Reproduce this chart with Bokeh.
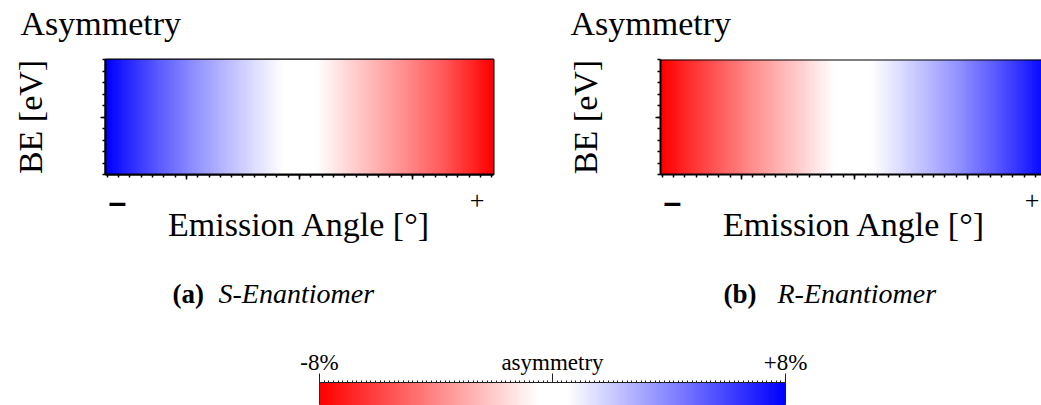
import numpy as np
from bokeh.plotting import figure
from bokeh.models import LinearColorMapper, FixedTicker, LinearAxis, Label, Span
from bokeh.layouts import column, row
from bokeh.embed import file_html
from bokeh.resources import INLINE

# ---- data -------------------------------------------------------------
# emission-angle window of the analyser (degrees) and binding-energy window
angle_range = (-17.15, 17.15)
be_range = (-5.0, 5.0)

# asymmetry (%) versus emission angle, constant along binding energy
angle_nodes = [-17.15, -13.0, -9.0, -4.5, -2.0, 0.0, 2.0, 4.5, 9.0, 13.0, 17.15]
asym_s = [8.0, 5.6, 3.6, 1.7, 0.7, 0.0, -0.7, -1.8, -3.7, -5.5, -8.0]
asym_r = [-8.0, -5.8, -3.8, -1.8, -0.6, 0.0, 0.7, 1.7, 3.6, 5.6, 8.0]

cbar_limits = (-8.0, 8.0)
cbar_major = [-8, 0, 8]
cbar_labels = {-8: "-8%", 0: "asymmetry", 8: "+8%"}

panel_title = "Asymmetry"
x_label = "Emission Angle [°]"
y_label = "BE [eV]"
captions = [("(a)", "S-Enantiomer"), ("(b)", "R-Enantiomer")]

SERIF = "Liberation Serif"

# ---- diverging red / white / blue palette -----------------------------
stops = [-8.0, -0.5, 0.5, 8.0]
red_ch = [255, 255, 255, 0]
grn_ch = [0, 255, 255, 0]
blu_ch = [0, 255, 255, 255]
levels = np.linspace(cbar_limits[0], cbar_limits[1], 256)
palette = [
    "#%02x%02x%02x" % (int(round(np.interp(v, stops, red_ch))),
                       int(round(np.interp(v, stops, grn_ch))),
                       int(round(np.interp(v, stops, blu_ch))))
    for v in levels
]
mapper = LinearColorMapper(palette=palette, low=cbar_limits[0], high=cbar_limits[1])

FRAME_W = 388
PX_PER_DEG = FRAME_W / (angle_range[1] - angle_range[0])
TITLE_H = 50     # panel titles
TOP_H = 132      # map panels (frame + ticks)
STRIP_H = 68     # angle-axis caption strip
CAP_H = 80       # sub-figure captions
CB_H = 75        # colour bar


def blank(width, height, x_range, y_range, left=0, right=0, top=0, bottom=0):
    f = figure(width=width, height=height, x_range=x_range, y_range=y_range,
               output_backend="svg", toolbar_location=None,
               x_axis_location=None, y_axis_location=None,
               min_border_left=left, min_border_right=right,
               min_border_top=top, min_border_bottom=bottom)
    f.outline_line_color = None
    f.xgrid.visible = False
    f.ygrid.visible = False
    return f


def text(x, y, s, font=SERIF, size=34, style="normal", align="left"):
    # Label baseline sits about a third of the font size below y; compensate
    return Label(x=x, y=y + 0.33 * size, text=s, text_font=font,
                 text_font_size=f"{size}px", text_font_style=style,
                 text_align=align, text_baseline="alphabetic", text_color="black")


def asym_map(values):
    cols = np.linspace(angle_range[0], angle_range[1], 400)
    return np.interp(cols, angle_nodes, values)[None, :]


def style_axis(ax):
    ax.major_label_text_color = None
    ax.major_label_text_font_size = "1px"
    ax.major_label_standoff = 0
    ax.major_tick_in = 0
    ax.minor_tick_in = 0
    ax.major_tick_out = 5
    ax.minor_tick_out = 3
    ax.axis_line_width = 2
    ax.major_tick_line_width = 1.5
    ax.minor_tick_line_width = 1.5
    ax.axis_line_color = "black"
    ax.major_tick_line_color = "black"
    ax.minor_tick_line_color = "black"


def panel(width, border_left, frame_w, values, full_outline):
    x_end = angle_range[0] + frame_w / PX_PER_DEG
    p = figure(width=width, height=TOP_H,
               x_range=(angle_range[0], x_end), y_range=be_range,
               output_backend="svg", toolbar_location=None,
               min_border_left=border_left,
               min_border_right=width - border_left - frame_w,
               min_border_top=9, min_border_bottom=TOP_H - 9 - 115)
    p.xgrid.visible = False
    p.ygrid.visible = False

    p.image(image=[asym_map(values)], x=angle_range[0], y=be_range[0],
            dw=angle_range[1] - angle_range[0], dh=be_range[1] - be_range[0],
            color_mapper=mapper)

    if full_outline:
        p.outline_line_color = "black"
        p.outline_line_width = 2
    else:
        p.outline_line_color = None
        p.add_layout(Span(location=be_range[1], dimension="width",
                          line_color="black", line_width=2))

    xa = p.xaxis[0]
    xa.ticker = FixedTicker(ticks=[-10, 0, 10], minor_ticks=list(range(-17, 18)))
    ya = p.yaxis[0]
    ya.ticker = FixedTicker(ticks=[0], minor_ticks=list(range(-5, 6)))
    style_axis(xa)
    style_axis(ya)
    ya.axis_label = y_label
    ya.axis_label_text_font = SERIF
    ya.axis_label_text_font_size = "34px"
    ya.axis_label_text_font_style = "normal"
    ya.axis_label_text_color = "black"
    ya.axis_label_standoff = 52
    return p


def angle_strip(src, width, border_left, frame_w):
    s = blank(width, STRIP_H, src.x_range, (0, STRIP_H),
              left=border_left, right=width - border_left - frame_w)
    s.add_layout(text(0, 15, x_label, align="center"))
    # sign markers at the ends of the angle axis
    s.add_layout(text(-16.1, 38, "–", font="Liberation Sans", size=32,
                      style="bold", align="center"))
    s.add_layout(text(15.7, 41.5, "+", size=26, align="center"))
    return s


# ---- panel titles ------------------------------------------------------
titles = blank(1041, TITLE_H, (0, 1041), (0, TITLE_H))
for x0 in (20, 570):
    titles.add_layout(text(x0, 16, panel_title))

fig_a = panel(520, 105, FRAME_W, asym_s, True)
fig_b = panel(521, 140, 381, asym_r, False)
strip_a = angle_strip(fig_a, 520, 105, FRAME_W)
strip_b = angle_strip(fig_b, 521, 140, 381)

# ---- sub-figure captions ----------------------------------------------
cap = blank(1041, CAP_H, (0, 1041), (0, CAP_H))
cap_x = [(172, 218), (723, 777)]
for (tag, name), (x_tag, x_name) in zip(captions, cap_x):
    cap.add_layout(text(x_tag, 28, tag, size=27, style="bold"))
    cap.add_layout(text(x_name, 28, name, size=28, style="italic"))

# ---- colour bar --------------------------------------------------------
cb = figure(width=1041, height=CB_H, x_range=cbar_limits, y_range=(0, 1),
            output_backend="svg", toolbar_location=None,
            x_axis_location=None, y_axis_location=None,
            min_border_left=319, min_border_right=256,
            min_border_top=52, min_border_bottom=0)
cb.xgrid.visible = False
cb.ygrid.visible = False
cb.outline_line_color = "#222222"
cb.outline_line_width = 1
cb.image(image=[np.linspace(cbar_limits[0], cbar_limits[1], 466)[None, :]],
         x=cbar_limits[0], y=0, dw=cbar_limits[1] - cbar_limits[0], dh=1,
         color_mapper=mapper)

top_axis = LinearAxis(
    ticker=FixedTicker(ticks=cbar_major,
                       minor_ticks=[round(v, 2) for v in np.arange(-8.0, 8.001, 0.16)]),
    major_label_overrides=cbar_labels,
    major_tick_in=0, minor_tick_in=0, major_tick_out=9, minor_tick_out=2,
    major_label_standoff=-1,
    major_label_text_font=SERIF, major_label_text_font_size="23px",
    major_label_text_color="black",
    axis_line_color="#222222", axis_line_width=1,
    major_tick_line_color="#222222", minor_tick_line_color="#222222",
)
cb.add_layout(top_axis, "above")

layout = column(row(titles),
                row(fig_a, fig_b, spacing=0),
                row(strip_a, strip_b, spacing=0),
                row(cap), row(cb), spacing=0)

with open("out.html", "w") as f:
    f.write(file_html(layout, INLINE))
